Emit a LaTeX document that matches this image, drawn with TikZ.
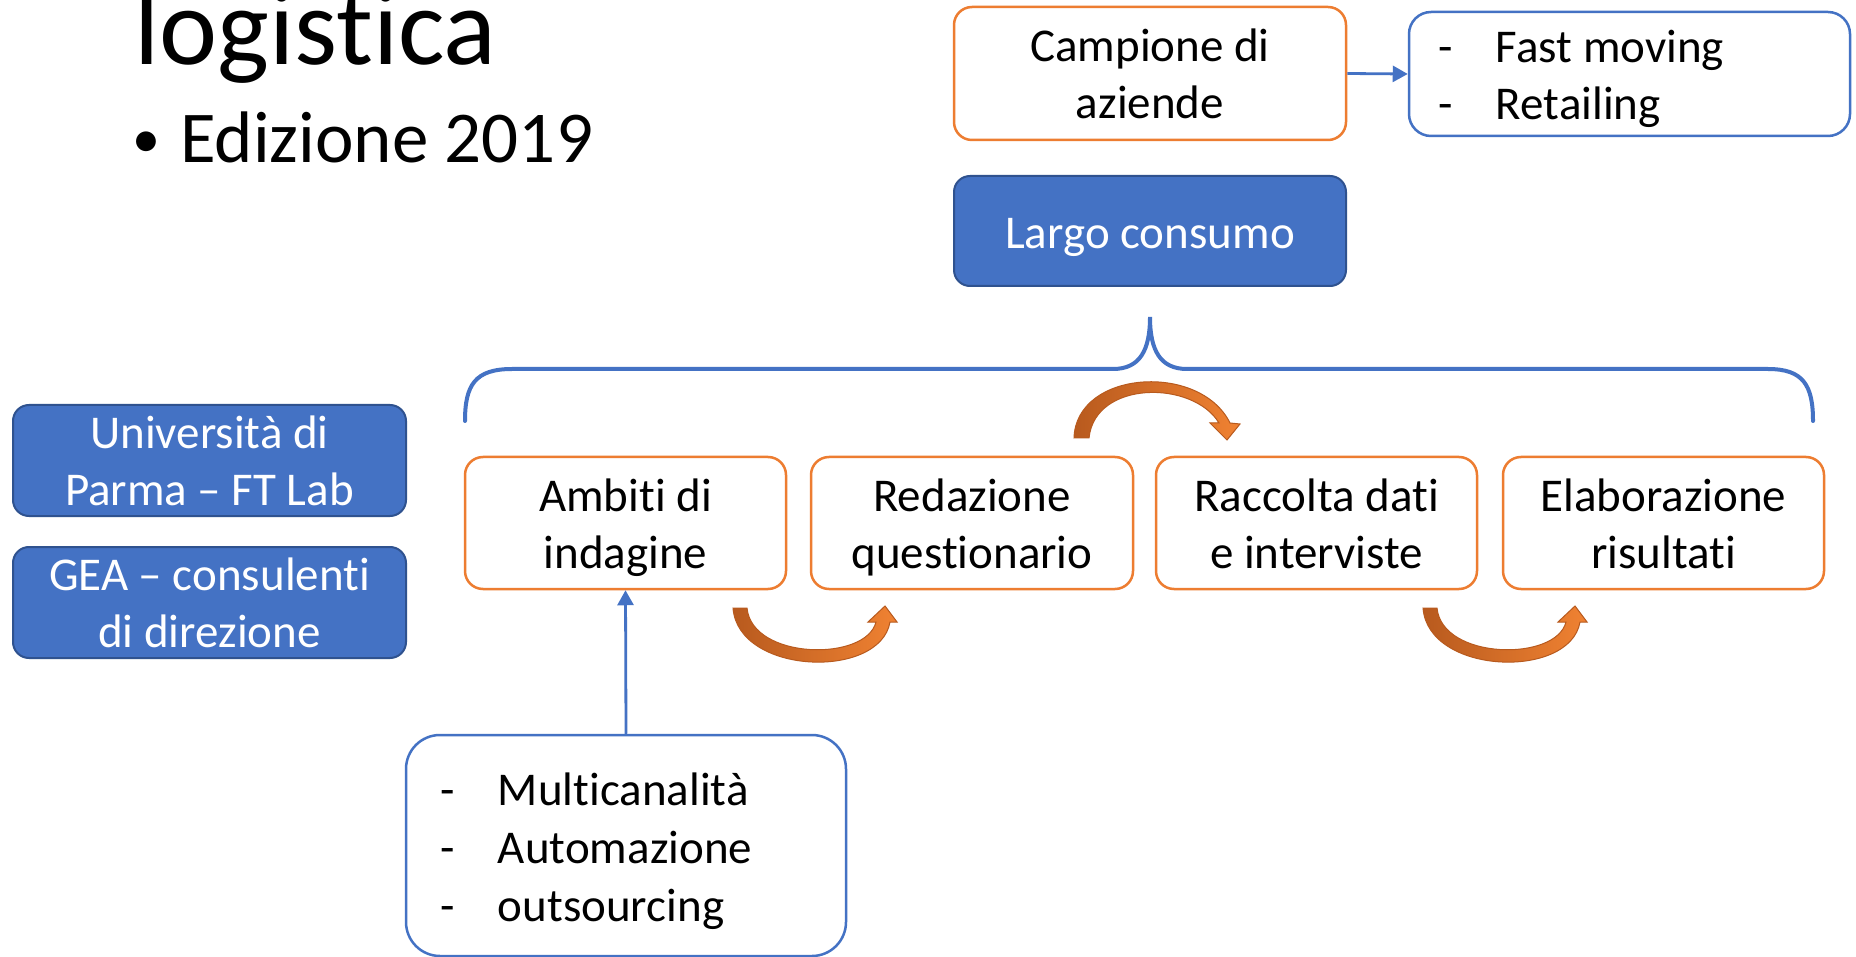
\documentclass[tikz,border=0pt]{standalone}
\usepackage{fontspec}
\setmainfont{Carlito}[Ligatures=NoCommon]
\usetikzlibrary{arrows.meta}
\definecolor{oorange}{HTML}{ED7D31}
\definecolor{oblue}{HTML}{4472C4}
\definecolor{odark}{HTML}{2F528F}
\definecolor{arrdark}{RGB}{184,90,30}
\definecolor{arrlight}{RGB}{240,130,50}
\tikzset{
  txt/.style={font=\fontsize{47}{57}\selectfont, align=center, inner sep=0pt},
  obox/.style={txt, draw=oorange, line width=2.5pt, rounded corners=18pt, fill=white},
  bbox/.style={txt, draw=oblue, line width=2.5pt, rounded corners=22pt, fill=white},
  fbox/.style={txt, draw=odark, line width=2pt, rounded corners=16pt, fill=oblue, text=white},
  conn/.style={draw=oblue, line width=2.8pt, -{Triangle[length=15pt,width=16pt]}},
  curvearr/.style={draw=arrdark, line width=1pt, left color=arrdark, right color=arrlight},
}
\newcommand{\dashitem}[1]{\makebox[58pt][l]{-}#1}
\newcommand{\mcl}[2][6pt]{\raisebox{-#1}[\height][\depth]{\begin{tabular}{@{}c@{}}#2\end{tabular}}}
\newcommand{\mll}[3][6pt]{\raisebox{-#1}[\height][\depth]{\begin{tabular}{@{}p{#2}@{}}#3\end{tabular}}}
\begin{document}
\begin{tikzpicture}[x=1pt,y=-1pt]
\useasboundingbox (0,0) rectangle (1856,957);
\fill[white] (0,0) rectangle (1856,957);

% title
\node[anchor=base west, inner sep=0pt, font=\fontsize{110}{130}\selectfont] (title) at (134,65) {logistica};
\node[anchor=base west, inner sep=0pt, font=\fontsize{56}{66}\selectfont] (bullet) at (132,158) {•};
\node[anchor=base west, inner sep=0pt, font=\fontsize{73}{88}\selectfont] (ediz) at (180,163) {Edizione 2019};

% top boxes
\node[obox, minimum width=392, minimum height=133] (camp) at (1150,73.5) {Campione di\\aziende};
\node[bbox, minimum width=441, minimum height=124, inner xsep=29pt] (fast) at (1629.5,74) {\mll{383pt}{\dashitem{Fast moving}\\\dashitem{Retailing}}};
\draw[conn] (camp.east) -- (fast.west);
\node[fbox, minimum width=392, minimum height=110] (largo) at (1150,231) {\mcl{Largo consumo}};

% brace
\coordinate (bl) at (465,421);
\coordinate (btip) at (1150,317);
\coordinate (br) at (1813,421);
\draw[oblue, line width=4pt, line cap=round]
  (bl) .. controls (465,385) and (475,369) .. (512,369) -- (1113,369)
  .. controls (1140,369) and (1150,350) .. (btip)
  .. controls (1150,350) and (1160,369) .. (1187,369) -- (1768,369)
  .. controls (1803,369) and (1813,385) .. (br);

% left boxes
\node[fbox, minimum width=393, minimum height=111] (univ) at (209.5,460.5) {Università di\\Parma – FT Lab};
\node[fbox, minimum width=393, minimum height=111] (gea) at (209.5,602.5) {GEA – consulenti\\di direzione};

% steps
\node[obox, minimum width=321, minimum height=132] (amb) at (625.5,523) {\mcl{Ambiti di\\indagine}};
\node[obox, minimum width=322, minimum height=132] (red) at (972,523) {\mcl{Redazione\\questionario}};
\node[obox, minimum width=321, minimum height=132] (rac) at (1316.5,523) {\mcl{Raccolta dati\\e interviste}};
\node[obox, minimum width=321, minimum height=132] (ela) at (1663.5,523) {\mcl{Elaborazione\\risultati}};

% bottom list
\node[bbox, rounded corners=34pt, minimum width=440, minimum height=221, inner xsep=34pt, font=\fontsize{47}{58}\selectfont] (multi) at (626,845.5) {\mll{372pt}{\dashitem{Multicanalità}\\\dashitem{Automazione}\\\dashitem{outsourcing}}};
\draw[conn] (multi.north) -- (amb.south);

% curved arrows
\path[curvearr] (1074,438) .. controls (1076,370) and (1200,362) .. (1230,423)
  -- (1240,424) -- (1227,440) -- (1210,423) -- (1219,423)
  .. controls (1193,380) and (1095,380) .. (1089,438) -- cycle;
\foreach \dx in {0,690}{
\begin{scope}[xshift=\dx]
\path[curvearr] (733,608) .. controls (738,675) and (880,680) .. (890,622)
  -- (897,622) -- (885,606) -- (868,622) -- (876,622)
  .. controls (866,662) and (752,660) .. (747,608) -- cycle;
\end{scope}}
\end{tikzpicture}
\end{document}
